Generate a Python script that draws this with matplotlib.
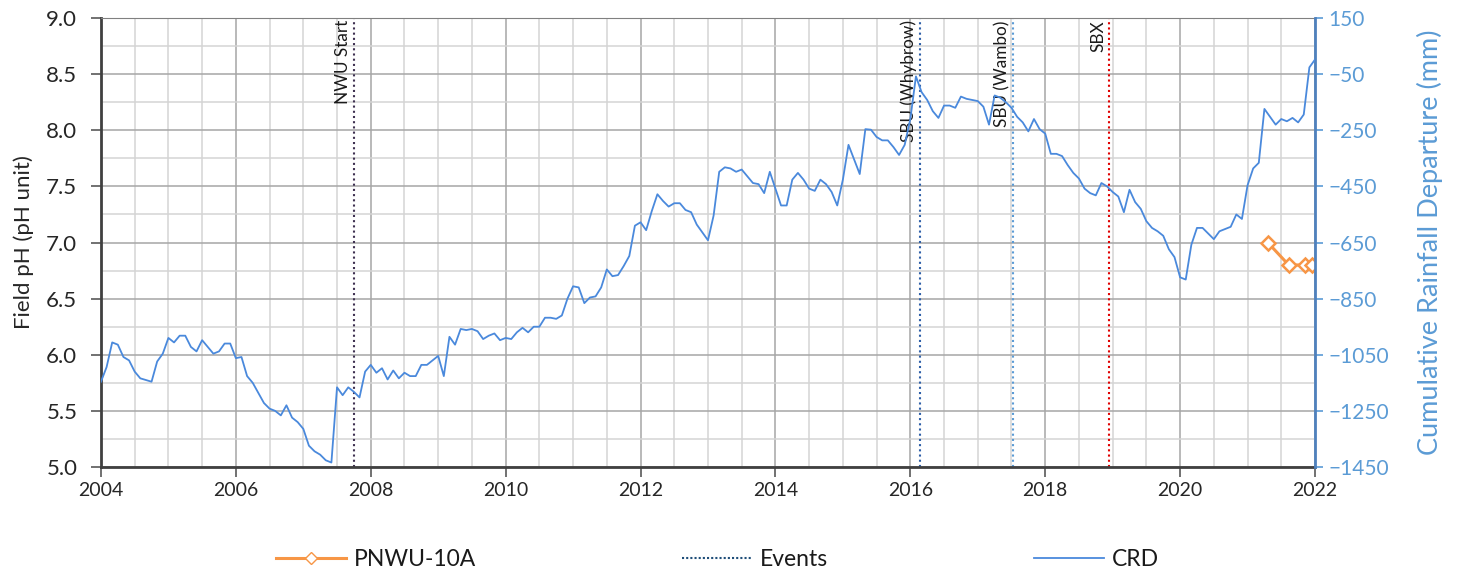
import numpy as np
import matplotlib
matplotlib.use("Agg")
import matplotlib.pyplot as plt
from matplotlib.lines import Line2D
from matplotlib.transforms import blended_transform_factory

plt.rcParams['font.family'] = ['Lato', 'DejaVu Sans']

# monthly cumulative rainfall departure (mm), Jan 2004 .. Jan 2022
crd = [-1146, -1094, -1006, -1014, -1058, -1070, -1110, -1134, -1140, -1146, -1074, -1046,
       -990, -1006, -982, -982, -1022, -1038, -998, -1022, -1046, -1038, -1010, -1010,
       -1062, -1058, -1126, -1150, -1186, -1222, -1242, -1250, -1266, -1230, -1274, -1290,
       -1314, -1374, -1394, -1406, -1426, -1434, -1166, -1194, -1166, -1182, -1202, -1110,
       -1086, -1114, -1098, -1138, -1106, -1134, -1114, -1126, -1126, -1086, -1086, -1070,
       -1054, -1126, -986, -1014, -958, -962, -958, -966, -994, -982, -974, -998,
       -990, -994, -970, -954, -970, -950, -950, -918, -918, -922, -910, -850,
       -806, -810, -866, -846, -842, -810, -746, -770, -766, -734, -698, -590,
       -578, -606, -538, -478, -502, -522, -510, -510, -534, -542, -586, -614,
       -642, -554, -398, -382, -386, -398, -390, -414, -438, -442, -474, -398,
       -458, -518, -518, -426, -402, -426, -458, -466, -426, -442, -470, -518,
       -426, -302, -354, -406, -246, -248, -274, -286, -286, -310, -338, -302,
       -210, -58, -114, -142, -182, -206, -162, -162, -170, -130, -138, -142,
       -146, -166, -230, -126, -134, -150, -170, -202, -222, -254, -210, -246,
       -262, -334, -334, -342, -374, -402, -422, -458, -474, -482, -438, -450,
       -470, -486, -542, -462, -506, -530, -574, -598, -610, -626, -674, -702,
       -774, -782, -658, -598, -598, -618, -638, -610, -602, -594, -550, -566,
       -446, -386, -366, -174, -202, -230, -210, -218, -206, -222, -194, -26,
       2]
crd_start = 2004.0

# field pH at PNWU-10A (decimal year)
ph_dates = [2021.30, 2021.61, 2021.85, 2021.95]
ph_vals = [7.0, 6.8, 6.8, 6.8]

# events (decimal year)
event_names = ["NWU Start", "SBU (Whybrow)", "SBU (Wambo)", "SBX"]
event_dates = [2007.75, 2016.14, 2017.52, 2018.94]
event_colors = ["#3f3151", "#2e5fa8", "#5b9bd5", "#e00000"]

crd_x = crd_start + np.arange(len(crd)) / 12.0

fig = plt.figure(figsize=(14.59, 5.77), dpi=100)
ax = fig.add_axes([0.0692, 0.1906, 0.8321, 0.7782])
ax2 = ax.twinx()

# grid
ax.set_xlim(2004, 2022)
ax.set_ylim(5.0, 9.0)
ax.set_xticks(np.arange(2004, 2023, 2))
ax.set_xticks(np.arange(2004, 2022.01, 0.5), minor=True)
ax.set_yticks(np.arange(5.0, 9.01, 0.5))
ax.set_yticks(np.arange(5.0, 9.01, 0.25), minor=True)
ax.grid(which='major', color='#a6a6a6', lw=1.1, zorder=0)
ax.grid(which='minor', color='#d4d4d4', lw=1.1, zorder=0)
ax.set_axisbelow(True)
ax.set_yticklabels([f"{v:.1f}" for v in np.arange(5.0, 9.01, 0.5)])
ax.tick_params(which='minor', length=0)
ax.tick_params(which='major', direction='out', length=7, width=1.2, color='#595959',
               labelcolor='#262626')
ax.tick_params(axis='x', labelsize=14)
ax.tick_params(axis='y', labelsize=16, pad=10)
ax.set_ylabel("Field pH (pH unit)", fontsize=16, color='#262626', labelpad=9)

for s in ['left', 'bottom']:
    ax.spines[s].set_color('#404040')
    ax.spines[s].set_linewidth(2)
ax.spines['top'].set_color('#808080')
ax.spines['right'].set_visible(False)

# events
tr = blended_transform_factory(ax.transData, ax.transAxes)
for name, d, c in zip(event_names, event_dates, event_colors):
    ax.axvline(d, color=c, ls=(0, (1, 1.5)), lw=1.5, zorder=2)
    ax.text(d - 0.04, 0.995, name, transform=tr, rotation=90, ha='right', va='top',
            fontsize=12.3, color='#1a1a1a', zorder=3)

# pH series
ax.plot(ph_dates, ph_vals, color='#f79646', lw=2.2, marker='D', markersize=7.5,
        markerfacecolor='white', markeredgecolor='#f79646', markeredgewidth=1.8, zorder=5)

# CRD on the right axis
ax2.plot(crd_x, crd, color='#4a89dc', lw=1.3, zorder=4)
ax2.set_ylim(-1450, 150)
ax2.set_yticks(np.arange(-1450, 151, 200))
ax2.tick_params(direction='out', length=6, width=1.2, color='#5b9bd5',
                labelsize=15, labelcolor='#5b9bd5')
ax2.set_ylabel("Cumulative Rainfall Departure (mm)", fontsize=19.5, color='#5b9bd5',
               labelpad=20)
for s in ['left', 'top', 'bottom']:
    ax2.spines[s].set_visible(False)
ax2.spines['right'].set_color('#4f81bd')
ax2.spines['right'].set_linewidth(2)

handles = [
    Line2D([], [], color='#f79646', lw=2.2, marker='D', markersize=6,
           markerfacecolor='white', markeredgecolor='#f79646'),
    Line2D([], [], color='#1f4e79', ls=(0, (1, 1)), lw=1.5),
    Line2D([], [], color='#4a89dc', lw=1.3),
]
fig.legend(handles, ["PNWU-10A", "Events", "CRD"], loc='center',
           bbox_to_anchor=(0.4918, 0.03), ncol=3, frameon=False, fontsize=16.5,
           handlelength=3.05, handletextpad=0.35, columnspacing=9,
           labelcolor='#1a1a1a')

fig.savefig("out.png", dpi=100)
